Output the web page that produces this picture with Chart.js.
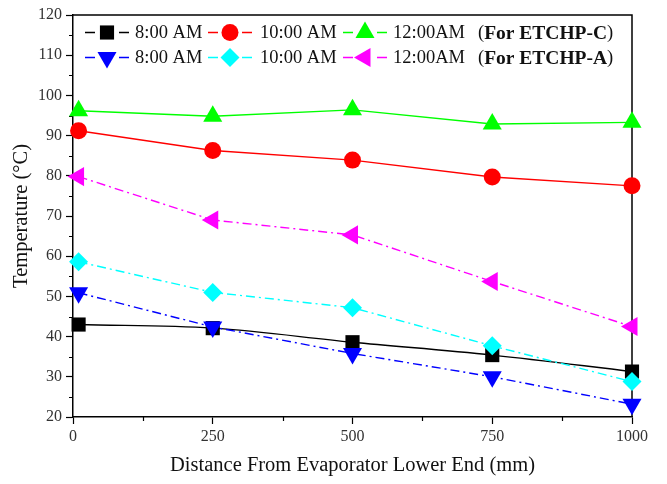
<!DOCTYPE html>
<html>
<head>
<meta charset="utf-8">
<script src="https://cdn.jsdelivr.net/npm/chart.js@4/dist/chart.umd.min.js"></script>
<style>
  html, body { margin: 0; padding: 0; background: #fff; }
  #wrap { width: 667px; height: 484px; position: relative; }
</style>
</head>
<body>
<div id="wrap"><canvas id="c"></canvas></div>
<script>
// ---- Data ----
const distances = [10, 250, 500, 750, 1000];
const xTicks = [0, 250, 500, 750, 1000];
const yTicks = [20, 30, 40, 50, 60, 70, 80, 90, 100, 110, 120];

const c8am  = [43.0, 42.1, 38.6, 35.4, 31.3];
const c10am = [91.2, 86.3, 83.9, 79.7, 77.5];
const c12am = [96.2, 94.8, 96.4, 92.9, 93.3];

const a8am  = [50.9, 42.4, 35.8, 30.0, 23.2];
const a10am = [58.6, 51.0, 47.2, 37.7, 28.8];
const a12am = [79.8, 69.0, 65.3, 53.7, 42.5];

const seriesLabels = ['8:00 AM', '10:00 AM', '12:00AM'];
const groupLabels = ['(For ETCHP-C)', '(For ETCHP-A)'];

const serif = '"Liberation Serif", "Times New Roman", serif';
const dashDot = [9, 4, 2, 4];

function pts(arr) { return distances.map((x, i) => ({ x: x, y: arr[i] })); }

const styles = [
  { data: c8am,  color: '#000000', style: 'rect',     rot: 0,   r: 10, dash: [],      tension: 0.35, order: 2 },
  { data: c10am, color: '#ff0000', style: 'circle',   rot: 0,   r: 8.5, dash: [],     tension: 0,    order: 2 },
  { data: c12am, color: '#00ff00', style: 'triangle', rot: 0,   r: 11, dash: [],      tension: 0,    order: 2 },
  { data: a8am,  color: '#0000ff', style: 'triangle', rot: 180, r: 11, dash: dashDot, tension: 0,    order: 1 },
  { data: a10am, color: '#00ffff', style: 'rectRot',  rot: 0,   r: 9.5, dash: dashDot, tension: 0,   order: 1 },
  { data: a12am, color: '#ff00ff', style: 'triangle', rot: 270, r: 11, dash: dashDot, tension: 0,    order: 1 }
];

const datasets = styles.map((s, i) => ({
  label: seriesLabels[i % 3] + ' ' + groupLabels[Math.floor(i / 3)],
  data: pts(s.data),
  borderColor: s.color,
  backgroundColor: s.color,
  borderWidth: 1.4,
  borderDash: s.dash,
  tension: s.tension,
  pointStyle: s.style,
  rotation: s.rot,
  pointRadius: s.r,
  pointHoverRadius: s.r,
  pointBorderWidth: 0,
  pointBackgroundColor: s.color,
  pointBorderColor: s.color,
  clip: false,
  order: s.order
}));

function drawMarker(ctx, s, x, y) {
  ctx.save();
  ctx.fillStyle = s.color;
  ctx.strokeStyle = s.color;
  if (Chart.helpers && Chart.helpers.drawPoint) {
    Chart.helpers.drawPoint(ctx, { pointStyle: s.style, rotation: s.rot, radius: s.r, borderWidth: 0 }, x, y);
  }
  ctx.restore();
}

const framePlugin = {
  id: 'frame',
  beforeDatasetsDraw(chart) {
    const ctx = chart.ctx;
    const a = chart.chartArea;
    const xs = chart.scales.x, ys = chart.scales.y;
    ctx.save();
    ctx.strokeStyle = '#000';
    ctx.lineWidth = 1.5;
    ctx.beginPath();
    ctx.moveTo(a.left, a.top); ctx.lineTo(a.right, a.top); ctx.lineTo(a.right, a.bottom);
    ctx.stroke();
    // minor ticks
    ctx.lineWidth = 1.2;
    ctx.beginPath();
    for (let v = 25; v < 120; v += 10) {
      const py = Math.round(ys.getPixelForValue(v)) + 0.5;
      ctx.moveTo(a.left - 4, py); ctx.lineTo(a.left, py);
    }
    for (let v = 125; v < 1000; v += 250) {
      const px = Math.round(xs.getPixelForValue(v)) + 0.5;
      ctx.moveTo(px, a.bottom); ctx.lineTo(px, a.bottom + 4);
    }
    ctx.stroke();
    ctx.restore();
  },
  afterDraw(chart) {
    const ctx = chart.ctx;
    ctx.save();
    // legend
    const rowsY = [32.5, 57.5];
    const itemX = [85, 208, 343];
    const textX = [135, 260, 393];
    const groupX = 478;
    const fs = 18.5, fb = 19.5;
    ctx.textBaseline = 'middle';
    ctx.textAlign = 'left';
    for (let g = 0; g < 2; g++) {
      for (let k = 0; k < 3; k++) {
        const s = styles[g * 3 + k];
        const y = rowsY[g];
        const x0 = itemX[k];
        ctx.save();
        ctx.strokeStyle = s.color;
        ctx.lineWidth = 1.4;
        ctx.beginPath();
        ctx.moveTo(x0, y); ctx.lineTo(x0 + 10, y);
        ctx.moveTo(x0 + 34, y); ctx.lineTo(x0 + 44, y);
        ctx.stroke();
        ctx.restore();
        drawMarker(ctx, s, x0 + 22, y);
        ctx.fillStyle = '#111';
        ctx.font = fs + 'px ' + serif;
        ctx.fillText(seriesLabels[k], textX[k], y + 1);
      }
      const y = rowsY[g];
      ctx.fillStyle = '#111';
      ctx.font = fs + 'px ' + serif;
      ctx.fillText('(', groupX, y + 1);
      const w1 = ctx.measureText('(').width;
      ctx.font = 'bold ' + fb + 'px ' + serif;
      const inner = groupLabels[g].slice(1, -1);
      ctx.fillText(inner, groupX + w1, y + 1);
      const w2 = ctx.measureText(inner).width;
      ctx.font = fs + 'px ' + serif;
      ctx.fillText(')', groupX + w1 + w2, y + 1);
    }
    ctx.restore();
  }
};

new Chart(document.getElementById('c'), {
  type: 'line',
  data: { datasets: datasets },
  options: {
    responsive: true,
    maintainAspectRatio: false,
    animation: false,
    layout: { padding: { top: 15, right: 35, left: 0, bottom: 0 } },
    plugins: { legend: { display: false }, tooltip: { enabled: false } },
    scales: {
      x: {
        type: 'linear',
        min: 0, max: 1000,
        afterFit(scale) { scale.height = 67; },
        afterBuildTicks(scale) { scale.ticks = xTicks.map(v => ({ value: v })); },
        border: { display: true, color: '#000', width: 1.5 },
        grid: { display: true, drawOnChartArea: false, drawTicks: true, tickLength: 7, tickColor: '#000', tickWidth: 1.2 },
        ticks: { color: '#333', font: { family: serif, size: 16 }, padding: 3, maxRotation: 0,
                 callback: (v) => String(v) },
        title: { display: true, text: 'Distance From Evaporator Lower End (mm)', color: '#111',
                 font: { family: serif, size: 20.5 }, padding: { top: 0, bottom: 6 } }
      },
      y: {
        type: 'linear',
        min: 20, max: 120,
        afterFit(scale) { scale.width = 73; },
        afterBuildTicks(scale) { scale.ticks = yTicks.map(v => ({ value: v })); },
        border: { display: true, color: '#000', width: 1.5 },
        grid: { display: true, drawOnChartArea: false, drawTicks: true, tickLength: 7, tickColor: '#000', tickWidth: 1.2 },
        ticks: { color: '#333', font: { family: serif, size: 16 }, padding: 4, callback: (v) => String(v) },
        title: { display: true, text: 'Temperature (°C)', color: '#111',
                 font: { family: serif, size: 20.5 }, padding: { top: 9, bottom: 0 } }
      }
    }
  },
  plugins: [framePlugin]
});
</script>
</body>
</html>
